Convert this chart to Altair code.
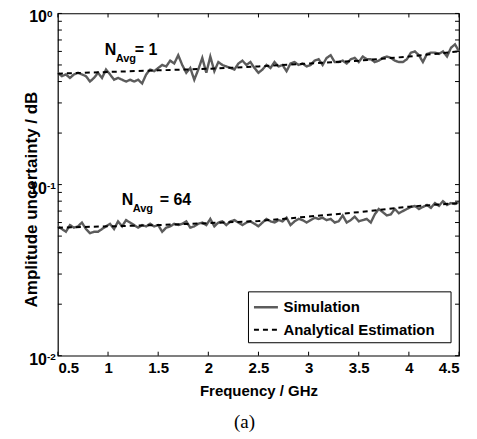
import altair as alt
import pandas as pd

# ---------------- data ----------------
freq_ghz = [round(0.5 + 0.04 * i, 2) for i in range(101)]

sim_n1 = [0.45, 0.43, 0.44, 0.42, 0.44, 0.45, 0.44, 0.43, 0.40, 0.42,
          0.45, 0.42, 0.47, 0.44, 0.41, 0.42, 0.41, 0.40, 0.41, 0.40,
          0.41, 0.39, 0.44, 0.47, 0.46, 0.48, 0.50, 0.49, 0.53, 0.51,
          0.57, 0.50, 0.45, 0.48, 0.41, 0.47, 0.55, 0.45, 0.56, 0.46,
          0.52, 0.50, 0.49, 0.48, 0.47, 0.51, 0.53, 0.50, 0.52, 0.48,
          0.45, 0.47, 0.50, 0.48, 0.52, 0.49, 0.50, 0.46, 0.51, 0.52,
          0.50, 0.51, 0.49, 0.50, 0.53, 0.54, 0.50, 0.55, 0.57, 0.52,
          0.52, 0.53, 0.51, 0.54, 0.55, 0.52, 0.56, 0.54, 0.54, 0.52,
          0.53, 0.55, 0.56, 0.55, 0.53, 0.52, 0.52, 0.54, 0.59, 0.60,
          0.57, 0.52, 0.58, 0.59, 0.59, 0.58, 0.60, 0.56, 0.63, 0.66,
          0.60]

sim_n64 = [0.057, 0.055, 0.053, 0.058, 0.056, 0.057, 0.060, 0.055, 0.052, 0.053,
           0.053, 0.055, 0.057, 0.059, 0.055, 0.061, 0.057, 0.062, 0.060, 0.058,
           0.056, 0.058, 0.057, 0.059, 0.057, 0.058, 0.053, 0.056, 0.057, 0.059,
           0.058, 0.059, 0.061, 0.056, 0.057, 0.059, 0.060, 0.058, 0.063, 0.057,
           0.060, 0.061, 0.058, 0.061, 0.062, 0.060, 0.058, 0.060, 0.061, 0.059,
           0.057, 0.060, 0.063, 0.061, 0.060, 0.062, 0.061, 0.064, 0.058, 0.061,
           0.063, 0.062, 0.060, 0.062, 0.064, 0.063, 0.064, 0.062, 0.063, 0.060,
           0.061, 0.066, 0.060, 0.062, 0.065, 0.061, 0.062, 0.063, 0.060, 0.067,
           0.072, 0.069, 0.066, 0.067, 0.072, 0.068, 0.070, 0.072, 0.074, 0.075,
           0.072, 0.074, 0.076, 0.073, 0.078, 0.075, 0.080, 0.076, 0.078, 0.077,
           0.079]

est_freq = [0.5, 1.0, 1.5, 2.0, 2.5, 3.0, 3.5, 4.0, 4.5]
est_n1 = [0.445, 0.455, 0.465, 0.475, 0.49, 0.51, 0.53, 0.56, 0.60]
est_n64 = [0.056, 0.057, 0.058, 0.0595, 0.0612, 0.065, 0.069, 0.0743, 0.078]

series_names = ["Simulation", "Analytical Estimation"]
x_ticks = [0.5, 1.0, 1.5, 2.0, 2.5, 3.0, 3.5, 4.0, 4.5]
y_major = [0.01, 0.1, 1.0]
y_label_base = ["10", "10", "10"]
y_label_exp = ["-2", "-1", "0"]
y_minor = [0.02, 0.03, 0.04, 0.05, 0.06, 0.07, 0.08, 0.09,
           0.2, 0.3, 0.4, 0.5, 0.6, 0.7, 0.8, 0.9]

# annotation pieces
ann_freq = [0.968, 1.077, 1.266, 1.137, 1.246, 1.515]
ann_val = [0.569, 0.518, 0.569, 0.0760, 0.0691, 0.0760]
ann_text = ["N", "Avg", "= 1", "N", "Avg", "= 64"]
ann_kind = ["main", "sub", "main", "main", "sub", "main"]

# ---------------- tables ----------------
rows = []
for f, v in zip(freq_ghz, sim_n1):
    rows.append({"f": f, "v": v, "series": "Simulation", "grp": "sim1"})
for f, v in zip(freq_ghz, sim_n64):
    rows.append({"f": f, "v": v, "series": "Simulation", "grp": "sim64"})
for f, v in zip(est_freq, est_n1):
    rows.append({"f": f, "v": v, "series": "Analytical Estimation", "grp": "est1"})
for f, v in zip(est_freq, est_n64):
    rows.append({"f": f, "v": v, "series": "Analytical Estimation", "grp": "est64"})
df = pd.DataFrame(rows)

W, H = 402, 343
FONT = "Liberation Sans"

xscale = alt.Scale(domain=[0.5, 4.5], nice=False, zero=False)
yscale = alt.Scale(type="log", domain=[0.01, 1], nice=False)

color_scale = alt.Scale(domain=series_names, range=["#5c5c5c", "#000000"])
dash_scale = alt.Scale(domain=series_names, range=[[1, 0], [5, 4]])
width_scale = alt.Scale(domain=series_names, range=[2.4, 2.0])

legend = alt.Legend(
    title=None, orient="none", legendX=195, legendY=281,
    padding=0, labelFont=FONT, labelFontWeight="bold", labelFontSize=15, labelColor="black",
    symbolType="stroke", symbolSize=576, symbolStrokeWidth=2,
    rowPadding=1, labelOffset=4,
)

xaxis = alt.Axis(values=x_ticks,
                 labelExpr="datum.value == 1 ? '1' : datum.value == 2 ? '2' : datum.value == 3 ? '3' : datum.value == 4 ? '4' : format(datum.value, '.1f')",
                 title="Frequency / GHz", ticks=False, domain=False, grid=False,
                 labelPadding=5, titlePadding=8)
yaxis = alt.Axis(values=y_major, labels=False,
                 title="Amplitude uncertainty / dB", ticks=False, domain=False, grid=False,
                 titleX=-26, titleY=186, titleAngle=270, titleBaseline="middle",
                 titleAlign="center", titleFontSize=17)

lines = alt.Chart(df).mark_line().encode(
    x=alt.X("f:Q", scale=xscale, axis=xaxis),
    y=alt.Y("v:Q", scale=yscale, axis=yaxis),
    color=alt.Color("series:N", scale=color_scale, legend=legend, sort=series_names),
    strokeDash=alt.StrokeDash("series:N", scale=dash_scale, legend=legend, sort=series_names),
    strokeWidth=alt.StrokeWidth("series:N", scale=width_scale, legend=None),
    detail="grp:N",
    order=alt.Order("f:Q"),
)

legend_box = alt.Chart(pd.DataFrame({"k": [0]})).mark_rect(
    fill="white", stroke="black", strokeWidth=1
).encode(x=alt.value(191), x2=alt.value(394), y=alt.value(279), y2=alt.value(330))

tick_len = 4
xt = pd.DataFrame({"f": x_ticks})
x_bot = alt.Chart(xt).mark_rule(color="black", strokeWidth=1).encode(
    x=alt.X("f:Q", scale=xscale), y=alt.value(H), y2=alt.value(H - tick_len))
x_top = alt.Chart(xt).mark_rule(color="black", strokeWidth=1).encode(
    x=alt.X("f:Q", scale=xscale), y=alt.value(0), y2=alt.value(tick_len))
yt = pd.DataFrame({"v": y_major + y_minor})
y_left = alt.Chart(yt).mark_rule(color="black", strokeWidth=1).encode(
    y=alt.Y("v:Q", scale=yscale), x=alt.value(0), x2=alt.value(tick_len))
y_right = alt.Chart(yt).mark_rule(color="black", strokeWidth=1).encode(
    y=alt.Y("v:Q", scale=yscale), x=alt.value(W), x2=alt.value(W - tick_len))

ylab = pd.DataFrame({"v": y_major, "b": y_label_base, "e": y_label_exp})
ylab_base = alt.Chart(ylab).mark_text(
    font=FONT, fontWeight="bold", fontSize=16, align="right", baseline="middle",
    color="black", dy=4
).encode(y=alt.Y("v:Q", scale=yscale), x=alt.value(-11), text="b:N")
ylab_exp = alt.Chart(ylab).mark_text(
    font=FONT, fontWeight="bold", fontSize=10, align="left", baseline="middle",
    color="black", dy=1
).encode(y=alt.Y("v:Q", scale=yscale), x=alt.value(-11), text="e:N")

ann = pd.DataFrame({"f": ann_freq, "v": ann_val, "t": ann_text, "k": ann_kind})
ann_main = alt.Chart(ann[ann.k == "main"]).mark_text(
    font=FONT, fontWeight="bold", fontSize=16, align="left", baseline="alphabetic", color="black"
).encode(x=alt.X("f:Q", scale=xscale), y=alt.Y("v:Q", scale=yscale), text="t:N")
ann_sub = alt.Chart(ann[ann.k == "sub"]).mark_text(
    font=FONT, fontWeight="bold", fontSize=11, align="left", baseline="alphabetic", color="black"
).encode(x=alt.X("f:Q", scale=xscale), y=alt.Y("v:Q", scale=yscale), text="t:N")

chart = alt.layer(
    lines, legend_box, x_bot, x_top, y_left, y_right, ylab_base, ylab_exp, ann_main, ann_sub
).resolve_scale(
    color="shared", strokeDash="shared"
).properties(
    width=W, height=H,
    title=alt.TitleParams("(a)", orient="bottom", font="Liberation Serif", fontSize=19,
                          fontWeight="normal", color="black", dx=-14, offset=14),
    autosize=alt.AutoSizeParams(type="none"),
    padding={"left": 50, "top": 5, "right": 10, "bottom": 80},
).configure(background="white").configure_view(
    stroke="black", strokeWidth=1.2
).configure_axis(
    labelFont=FONT, labelFontWeight="bold", labelFontSize=15, labelColor="black",
    titleFont=FONT, titleFontWeight="bold", titleFontSize=15, titleColor="black",
)

chart.save("out.html", embed_options={"renderer": "svg", "actions": False})
